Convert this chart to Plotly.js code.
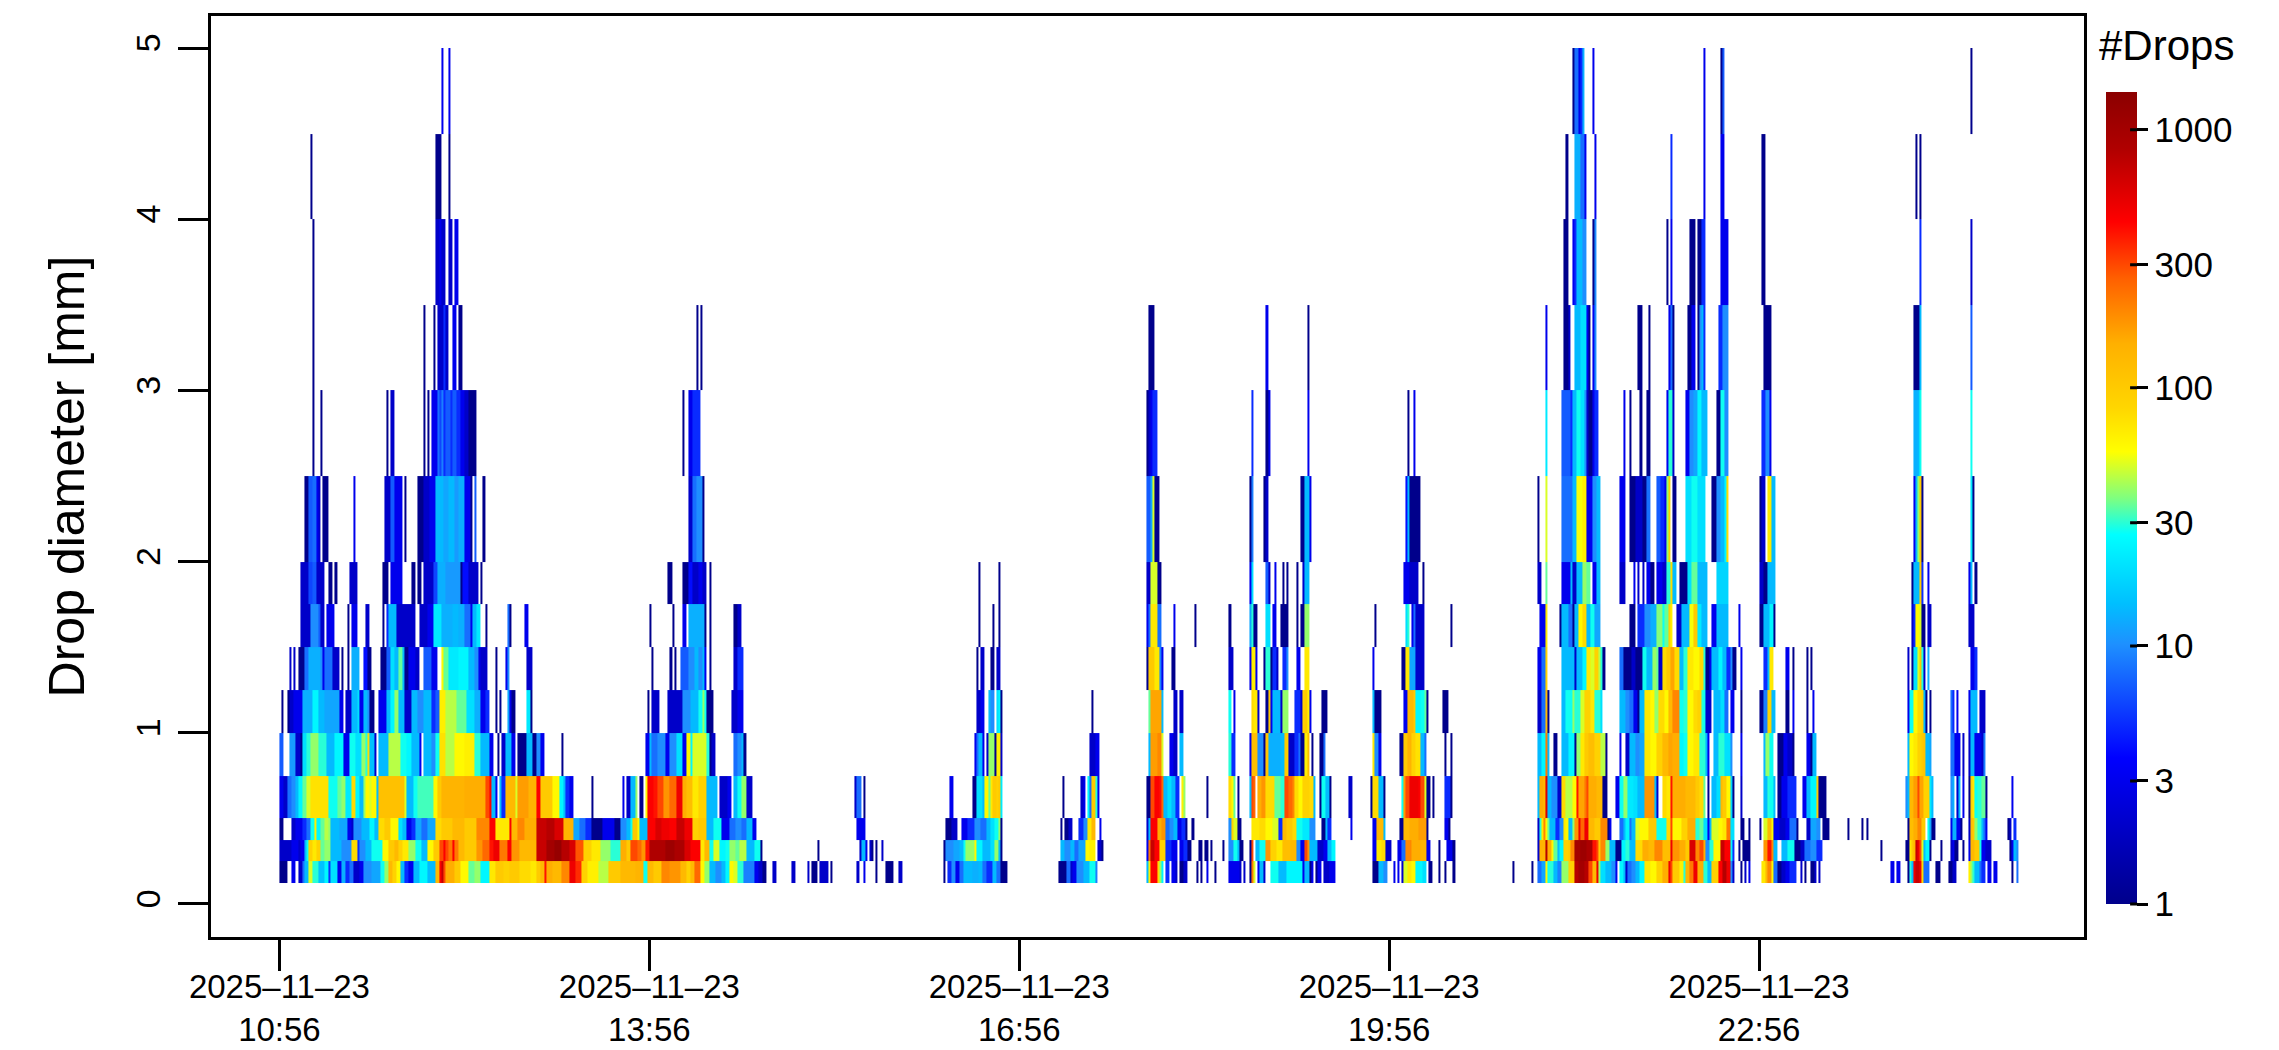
<!DOCTYPE html>
<html lang="en">
    <head>
        <meta charset="UTF-8" />
        <title>Drop size distribution</title>
        <script src="https://cdn.plot.ly/plotly-3.0.1.min.js"></script>
        <style>
            body { margin: 0; background: #fff; }
        </style>
    </head>
    <body>
        <div id="graph" style="width: 2279px; height: 1050px"></div>
    </body>
    <script>
        // Time axis: minutes after the first sample
        const startTime = Date.UTC(2025, 10, 23, 10, 56);
        const nMinutes = 850;
        const tickTimes = ["2025-11-23 10:56", "2025-11-23 13:56", "2025-11-23 16:56", "2025-11-23 19:56", "2025-11-23 22:56"];
        const tickLabels = ["2025–11–23<br>10:56", "2025–11–23<br>13:56", "2025–11–23<br>16:56", "2025–11–23<br>19:56", "2025–11–23<br>22:56"];

        // Diameter class edges [mm]
        const diameterEdges = [0.125, 0.25, 0.375, 0.5, 0.75, 1, 1.25, 1.5, 1.75, 2, 2.5, 3, 3.5, 4, 4.5, 5];

        // Colour bar labels
        const dropTicks = [1, 3, 10, 30, 100, 300, 1000];
        const dropMax = 1400;

        // Each class: [first minute, number of minutes, drops per minute]
        const d0125 = [[0,4,1],[6,2,3],[9,2,2],[11,1,8],[12,2,14],[14,2,50],[16,3,30],[19,3,15],[22,2,25],[24,1,5],[25,3,20],[28,2,3],[30,2,13],[32,2,5],[34,2,8],[36,3,2],[39,2,3],[41,4,10],[45,4,12],[49,2,28],[51,2,40],[53,2,130],[55,2,90],[57,2,60],[59,2,14],[61,2,5],[63,2,3],[65,3,14],[68,4,25],[72,4,14],[76,2,130],[78,1,450],[79,1,700],[80,1,300],[81,4,150],[85,3,100],[88,4,60],[92,3,35],[95,3,40],[98,4,25],[102,3,70],[105,4,100],[109,3,90],[112,5,100],[117,5,80],[122,3,70],[125,2,100],[127,2,130],[129,1,400],[130,3,150],[133,4,130],[137,4,200],[141,3,500],[144,3,350],[147,3,90],[150,5,65],[155,5,45],[160,6,100],[166,7,130],[173,4,140],[177,2,28],[179,3,130],[182,4,100],[186,4,200],[190,5,180],[195,3,130],[198,2,90],[200,2,130],[202,3,250],[205,2,60],[207,2,40],[209,3,14],[212,3,10],[215,2,14],[217,2,25],[219,2,60],[221,2,50],[223,3,30],[226,5,9],[231,2,3],[233,2,2],[235,2,1],[240,2,2],[249,2,2],[257,1,2],[259,3,1],[263,4,2],[268,1,1],[281,1,2],[284,1,3],[290,1,1],[295,4,1],[301,2,2],[323,1,1],[325,2,5],[327,2,10],[329,2,3],[331,2,8],[333,4,14],[337,3,13],[340,2,14],[342,2,8],[344,3,5],[347,2,14],[349,2,8],[351,3,1],[379,4,1],[383,2,8],[385,1,2],[386,2,3],[388,3,10],[391,3,14],[394,3,28],[397,1,9],[422,1,14],[423,1,65],[424,3,450],[427,1,80],[428,1,40],[429,1,25],[431,2,5],[434,2,3],[436,1,2],[438,2,1],[440,2,2],[446,1,1],[448,1,1],[451,1,3],[455,1,1],[462,5,3],[467,1,2],[469,1,2],[472,1,1],[473,1,220],[474,1,50],[476,1,3],[477,2,14],[479,1,2],[482,4,28],[486,4,14],[490,8,25],[498,1,3],[499,2,14],[501,1,1],[502,1,3],[504,1,1],[505,2,3],[508,3,2],[511,3,3],[532,3,1],[535,2,14],[537,2,10],[542,1,3],[544,1,3],[546,1,2],[547,2,50],[549,2,70],[551,2,60],[553,3,25],[556,2,20],[559,2,1],[564,1,1],[567,1,1],[571,1,1],[600,1,1],[609,1,1],[612,2,8],[614,2,12],[616,1,60],[617,1,28],[618,2,30],[620,2,14],[622,2,9],[624,3,40],[627,3,90],[630,2,800],[632,3,1000],[635,2,800],[637,2,300],[639,2,130],[641,1,500],[642,1,40],[643,2,20],[645,3,14],[648,2,10],[650,1,3],[652,2,25],[654,1,14],[655,1,2],[656,2,8],[658,2,10],[660,2,14],[662,2,25],[664,3,70],[667,3,60],[670,3,90],[673,3,150],[676,1,500],[677,1,300],[678,3,100],[681,2,65],[683,1,30],[684,2,140],[686,2,220],[688,2,500],[690,3,150],[693,2,30],[695,2,14],[697,3,90],[700,2,450],[702,2,800],[704,2,500],[706,1,10],[707,1,2],[711,1,1],[713,1,2],[715,1,3],[721,2,70],[723,1,130],[724,2,200],[726,1,60],[727,2,8],[729,2,1],[731,2,2],[733,2,3],[735,3,5],[740,1,2],[742,1,1],[745,2,1],[747,1,2],[749,1,2],[784,2,3],[787,2,3],[792,1,1],[793,1,30],[794,1,14],[795,1,500],[796,2,700],[798,1,500],[799,1,80],[800,3,8],[806,2,1],[812,2,1],[814,2,2],[822,1,65],[823,1,40],[824,1,30],[825,2,14],[827,1,8],[828,2,5],[831,2,3],[834,2,3],[843,1,1],[845,1,8]];
        const d025 = [[0,6,2],[6,3,3],[9,1,2],[10,2,3],[12,1,14],[13,1,28],[14,2,90],[16,2,70],[18,2,90],[20,2,35],[22,3,40],[25,5,14],[30,5,10],[35,3,80],[38,1,5],[39,3,10],[42,3,14],[45,5,28],[50,3,60],[53,3,100],[56,2,130],[58,2,90],[60,3,70],[63,3,40],[66,3,28],[69,3,14],[72,3,60],[75,3,100],[78,2,300],[80,1,450],[81,1,300],[82,2,220],[84,1,450],[85,2,220],[87,3,130],[90,6,100],[96,3,180],[99,3,250],[102,2,400],[104,3,500],[107,4,220],[111,2,450],[113,4,180],[117,8,130],[125,5,700],[130,4,1000],[134,3,1200],[137,4,800],[141,3,600],[144,4,280],[148,4,90],[152,4,70],[156,5,40],[161,5,30],[166,3,150],[169,2,100],[171,3,300],[174,2,250],[176,2,180],[178,2,400],[180,8,850],[188,4,1100],[192,5,900],[197,3,600],[200,5,450],[205,2,70],[207,2,130],[209,2,28],[211,3,50],[214,3,25],[217,2,28],[219,3,40],[222,2,35],[224,3,45],[227,4,14],[231,3,28],[234,1,1],[262,1,1],[282,1,2],[283,2,14],[285,1,3],[287,1,2],[288,1,1],[290,1,1],[293,1,2],[323,1,1],[324,4,10],[328,3,12],[331,2,14],[333,1,28],[334,4,40],[338,1,60],[339,3,25],[342,4,14],[346,2,20],[348,2,40],[350,1,14],[351,1,1],[380,2,14],[382,3,10],[385,2,14],[387,2,8],[389,3,12],[392,2,60],[394,3,65],[398,2,2],[400,1,1],[422,1,3],[423,1,220],[424,2,700],[426,2,450],[428,3,90],[431,3,5],[434,3,3],[438,2,3],[440,2,5],[442,2,1],[447,2,1],[450,2,1],[453,1,1],[459,1,1],[462,2,10],[464,2,28],[466,1,14],[467,2,1],[472,1,1],[473,1,300],[475,2,14],[477,3,28],[480,2,180],[482,3,90],[485,3,70],[488,4,120],[492,3,130],[495,2,10],[497,2,3],[499,1,300],[500,1,180],[501,2,14],[503,2,14],[505,3,2],[508,2,3],[510,2,14],[512,2,25],[532,2,3],[534,2,70],[536,2,80],[538,3,2],[544,2,3],[546,2,8],[548,3,200],[551,4,150],[555,4,140],[558,2,3],[564,1,1],[568,3,3],[571,1,1],[612,1,2],[613,3,140],[616,1,800],[617,2,150],[619,1,60],[620,2,35],[622,1,14],[623,2,25],[625,2,90],[627,1,100],[628,2,200],[630,3,1000],[633,3,1100],[636,3,900],[639,2,400],[641,1,300],[642,1,100],[643,2,200],[645,2,40],[647,3,14],[650,3,1],[653,2,25],[655,2,30],[657,3,14],[660,3,80],[663,3,150],[666,3,130],[669,4,200],[673,4,120],[677,1,500],[678,3,180],[681,3,150],[684,2,100],[686,3,600],[689,2,200],[691,2,300],[693,1,150],[694,2,10],[696,2,30],[698,3,60],[701,2,700],[703,3,450],[706,1,25],[707,1,5],[710,1,1],[712,4,1],[722,2,180],[724,2,400],[726,1,200],[727,2,14],[731,3,14],[734,3,28],[737,3,1],[740,2,2],[742,3,8],[745,3,10],[748,3,5],[779,1,1],[791,2,1],[793,1,70],[794,1,100],[795,1,130],[796,1,700],[797,1,500],[798,1,300],[799,1,50],[800,1,14],[801,2,25],[803,1,1],[808,1,1],[813,1,2],[814,1,3],[815,2,1],[819,1,1],[822,1,3],[823,2,130],[825,2,100],[827,1,28],[828,2,3],[830,3,2],[842,1,1],[843,1,3],[844,1,14],[845,1,10]];
        const d0375 = [[0,2,1],[6,2,2],[8,3,3],[11,2,5],[13,2,8],[15,2,28],[17,1,65],[18,2,25],[20,2,35],[22,2,45],[24,1,40],[25,4,14],[29,4,12],[33,2,3],[35,1,2],[36,4,10],[40,4,14],[44,2,25],[46,2,14],[48,3,80],[51,3,100],[54,4,60],[58,2,20],[60,2,14],[62,2,3],[64,2,5],[66,3,12],[69,3,8],[72,4,12],[76,3,80],[79,5,100],[84,6,130],[90,6,100],[96,6,200],[102,3,450],[105,7,70],[112,1,450],[113,3,130],[116,3,200],[119,6,150],[125,5,700],[130,4,800],[134,4,600],[138,5,140],[143,3,12],[146,3,8],[149,3,5],[152,2,1],[154,3,1],[157,6,3],[163,3,1],[166,3,10],[169,2,14],[171,1,28],[172,2,100],[174,1,60],[175,4,14],[179,4,450],[183,3,600],[186,4,500],[190,3,450],[193,4,700],[197,4,500],[201,3,90],[204,4,100],[208,3,14],[211,4,28],[215,4,3],[219,3,8],[222,3,10],[225,2,8],[227,3,14],[230,2,3],[281,2,3],[283,2,3],[324,3,1],[327,3,2],[332,1,3],[333,2,3],[335,3,5],[338,3,10],[341,3,8],[344,2,14],[346,2,20],[348,2,28],[350,1,40],[351,1,1],[380,1,1],[382,2,1],[384,2,2],[389,2,5],[391,2,10],[393,2,70],[395,2,130],[399,1,3],[422,1,2],[423,1,14],[424,3,450],[427,2,150],[429,2,180],[431,2,8],[433,2,10],[435,2,14],[437,2,3],[439,2,5],[441,1,1],[444,1,1],[462,1,10],[463,1,90],[464,2,50],[466,1,1],[467,1,1],[473,4,70],[477,3,80],[480,3,60],[483,3,50],[486,2,5],[488,2,130],[490,3,100],[493,2,80],[495,3,28],[498,3,22],[501,3,10],[507,2,1],[509,1,14],[510,2,5],[521,1,3],[532,2,3],[534,1,140],[535,2,130],[537,1,14],[545,2,1],[547,3,130],[550,4,150],[554,4,170],[558,1,1],[567,2,3],[569,1,1],[612,1,2],[613,1,30],[614,1,70],[615,1,200],[616,1,60],[617,1,35],[618,3,14],[621,2,5],[623,2,10],[625,1,70],[626,1,60],[627,2,14],[629,1,40],[630,2,180],[632,1,500],[633,2,250],[635,2,500],[637,3,130],[640,3,100],[643,3,200],[646,1,1],[647,1,3],[652,2,8],[654,1,14],[655,2,25],[657,1,8],[658,2,14],[660,2,50],[662,4,60],[666,4,100],[670,5,28],[675,2,80],[677,1,300],[678,4,60],[682,3,90],[685,4,150],[689,2,30],[691,2,35],[693,2,20],[695,1,3],[696,1,14],[697,3,50],[700,2,60],[702,2,70],[704,2,220],[706,2,20],[711,2,1],[715,1,1],[720,1,1],[722,2,50],[724,2,130],[726,1,60],[727,3,3],[730,3,2],[733,2,3],[735,3,8],[738,1,1],[743,2,2],[745,3,12],[748,2,10],[751,3,1],[763,1,1],[770,1,1],[772,1,1],[792,1,1],[793,2,120],[795,2,150],[797,2,200],[799,2,100],[802,1,28],[803,1,12],[804,2,1],[813,1,3],[814,2,13],[816,2,3],[818,1,1],[822,1,2],[823,1,120],[824,1,100],[825,1,40],[826,2,30],[828,1,14],[829,1,8],[830,1,3],[841,1,1],[842,1,2],[844,1,5]];
        const d05 = [[0,2,3],[2,2,2],[4,2,8],[6,2,10],[8,1,14],[9,2,25],[11,2,35],[13,2,50],[15,9,75],[24,4,28],[28,2,35],[30,2,40],[32,3,22],[35,2,80],[37,2,25],[39,2,14],[41,1,40],[42,2,60],[44,1,50],[45,2,60],[47,1,14],[48,13,115],[61,1,50],[62,1,14],[63,2,14],[65,2,28],[67,8,32],[75,2,60],[77,2,100],[79,11,140],[90,10,150],[100,2,300],[102,1,450],[103,2,14],[105,1,3],[107,1,14],[108,2,5],[110,5,130],[115,1,50],[116,5,170],[121,4,140],[125,2,450],[127,2,100],[129,4,100],[133,3,60],[136,2,25],[138,1,14],[139,2,5],[141,2,3],[152,1,1],[167,1,3],[169,2,2],[171,2,14],[173,1,40],[175,2,1],[178,1,60],[179,3,450],[182,2,400],[184,3,300],[187,3,180],[190,3,250],[193,3,500],[196,2,150],[198,3,120],[201,3,70],[204,4,90],[208,3,14],[211,2,14],[214,2,2],[216,2,2],[218,2,3],[221,2,14],[223,2,28],[225,2,40],[227,3,2],[280,1,2],[281,2,8],[284,1,1],[326,2,3],[337,2,1],[339,3,20],[342,1,14],[343,2,60],[345,1,35],[346,1,70],[347,2,100],[349,1,90],[350,1,100],[351,1,22],[381,1,1],[390,1,2],[391,1,3],[393,1,25],[394,1,8],[395,2,100],[397,1,30],[398,1,3],[422,2,1],[424,2,300],[426,2,450],[428,1,400],[429,1,250],[430,2,14],[432,2,20],[434,2,14],[436,2,5],[439,1,65],[440,1,40],[451,1,1],[462,1,80],[463,1,60],[464,1,35],[466,1,1],[472,1,14],[473,1,300],[474,1,250],[476,2,150],[478,2,180],[480,4,80],[484,3,35],[487,2,30],[489,2,300],[491,2,250],[493,1,200],[494,2,80],[496,2,60],[498,3,90],[501,2,80],[503,1,14],[506,1,1],[507,2,28],[509,2,14],[511,1,1],[520,2,2],[531,1,1],[532,3,80],[535,2,14],[537,1,1],[546,1,28],[547,1,170],[548,2,300],[550,2,500],[552,2,500],[554,1,450],[555,2,300],[557,1,50],[558,2,1],[561,1,1],[567,3,5],[570,1,1],[612,1,14],[613,2,150],[615,1,130],[616,1,600],[617,2,14],[619,3,10],[622,2,2],[624,2,80],[626,3,45],[629,2,60],[631,1,400],[632,3,160],[635,1,220],[636,1,300],[637,4,150],[641,3,130],[644,2,1],[650,2,3],[652,2,28],[654,2,40],[656,3,22],[659,2,20],[661,3,14],[664,5,180],[669,1,14],[670,1,2],[673,2,80],[675,2,70],[677,1,400],[678,6,150],[684,5,130],[689,2,100],[691,2,80],[693,1,35],[695,1,1],[697,2,14],[699,2,20],[701,1,130],[702,2,100],[704,2,60],[706,1,18],[707,1,1],[711,1,2],[722,2,14],[724,1,30],[725,2,28],[727,1,14],[729,2,1],[731,3,3],[734,4,5],[741,2,3],[743,2,14],[745,3,25],[748,1,100],[749,4,1],[791,1,10],[792,1,14],[793,2,130],[795,2,170],[797,1,300],[798,2,160],[800,3,90],[803,1,22],[804,1,14],[813,1,10],[814,1,13],[816,1,2],[817,1,14],[819,1,3],[822,1,1],[823,1,90],[824,1,70],[825,1,28],[826,2,30],[828,2,35],[830,1,1],[843,1,3]];
        const d075 = [[0,2,7],[5,3,11],[8,2,2],[10,1,1],[11,2,20],[13,2,30],[15,4,40],[19,4,30],[23,4,14],[27,4,25],[31,3,3],[34,3,28],[37,3,20],[40,2,40],[42,1,30],[43,1,80],[44,2,15],[46,1,2],[48,5,14],[53,6,45],[59,3,28],[62,2,25],[64,4,14],[68,1,3],[70,4,14],[74,2,10],[76,2,28],[78,3,75],[81,4,45],[85,5,60],[90,5,65],[95,3,30],[98,4,14],[102,2,3],[106,1,1],[108,2,2],[110,3,14],[113,2,3],[116,4,1],[120,3,14],[123,2,1],[125,2,10],[127,2,3],[137,1,1],[178,2,3],[180,1,14],[181,3,8],[184,4,10],[188,2,3],[190,3,10],[193,3,20],[196,2,3],[198,2,60],[200,1,25],[201,7,50],[208,1,30],[209,1,1],[210,2,2],[221,2,8],[223,2,10],[225,1,14],[226,1,1],[338,1,3],[339,1,8],[340,2,14],[342,1,3],[344,1,2],[345,3,40],[348,1,1],[349,2,65],[351,1,2],[394,3,2],[397,2,3],[423,1,14],[424,3,170],[427,2,200],[429,1,50],[433,2,3],[435,2,2],[438,2,14],[462,1,30],[463,2,5],[472,1,3],[473,3,120],[476,3,10],[479,1,1],[480,1,110],[481,6,13],[487,2,14],[489,1,100],[490,1,90],[491,3,2],[494,2,5],[496,1,8],[497,2,1],[499,1,65],[500,1,120],[502,1,1],[506,2,1],[508,1,8],[532,1,70],[533,2,10],[535,1,3],[545,2,1],[547,2,100],[549,2,140],[551,2,90],[553,2,75],[555,2,14],[557,1,8],[567,1,1],[570,1,1],[612,2,14],[614,2,25],[616,1,220],[617,1,14],[620,2,1],[624,3,14],[627,3,25],[630,1,1],[631,2,40],[633,2,70],[635,2,100],[637,3,120],[640,3,90],[643,2,45],[645,1,1],[652,1,3],[655,2,2],[657,3,14],[660,2,10],[662,2,12],[664,3,70],[667,3,60],[670,3,90],[673,3,130],[676,2,160],[678,3,150],[681,2,25],[683,2,28],[685,3,60],[688,3,70],[691,3,30],[694,1,14],[695,1,3],[698,2,14],[700,3,30],[703,3,20],[706,1,10],[711,1,3],[722,1,14],[723,2,40],[725,2,28],[729,3,1],[732,2,3],[734,2,2],[736,1,1],[743,2,3],[745,1,1],[746,2,14],[792,1,14],[793,2,60],[795,2,70],[797,2,90],[799,1,100],[800,1,110],[801,2,14],[803,1,12],[813,2,8],[815,3,3],[819,1,2],[822,1,2],[823,2,14],[825,1,3],[826,2,3],[828,1,2],[829,1,9]];
        const d100 = [[1,1,1],[4,1,1],[5,2,2],[7,1,3],[8,3,3],[11,5,13],[16,3,25],[19,3,14],[22,7,12],[29,2,3],[32,3,2],[35,3,14],[38,1,20],[39,2,3],[41,2,14],[43,1,10],[44,2,1],[48,4,3],[52,2,14],[54,2,25],[56,2,40],[58,3,14],[61,3,2],[64,3,14],[67,3,10],[70,4,14],[74,2,5],[76,2,7],[78,3,65],[81,5,45],[86,5,35],[91,4,20],[95,3,13],[98,2,3],[100,2,5],[105,1,1],[107,1,1],[111,1,12],[112,1,3],[113,2,1],[120,2,22],[122,1,1],[179,1,1],[181,4,2],[189,7,2],[196,4,10],[200,4,14],[204,2,28],[206,1,40],[207,1,28],[208,3,1],[220,3,2],[223,3,3],[339,2,2],[341,2,3],[345,1,14],[346,2,10],[349,1,20],[350,1,25],[351,1,1],[395,1,1],[423,1,35],[424,5,160],[429,1,14],[435,2,2],[438,2,2],[462,1,28],[464,1,3],[473,1,80],[474,2,70],[476,1,2],[480,1,1],[481,1,100],[482,1,3],[483,4,14],[487,1,2],[488,3,40],[494,3,5],[497,1,2],[498,1,90],[499,1,100],[500,1,65],[501,1,3],[507,3,1],[532,1,14],[533,3,1],[547,2,3],[549,3,130],[552,1,100],[553,2,25],[555,2,28],[557,1,35],[558,1,1],[566,3,1],[612,2,2],[614,2,8],[616,1,130],[617,1,1],[624,2,14],[626,3,28],[629,1,40],[630,3,30],[633,2,50],[635,3,90],[638,2,70],[640,3,30],[643,1,20],[652,3,14],[655,2,10],[657,2,8],[659,2,3],[661,1,1],[662,2,14],[664,3,70],[667,2,60],[669,2,40],[671,3,80],[674,2,60],[676,2,130],[678,3,200],[681,2,28],[683,2,30],[685,3,60],[688,2,80],[690,2,90],[692,1,30],[693,1,28],[694,3,2],[698,3,14],[701,2,20],[703,2,8],[706,2,3],[711,1,1],[720,2,1],[722,2,9],[724,2,90],[726,2,14],[733,2,1],[736,1,3],[743,1,1],[746,1,3],[792,1,3],[793,2,28],[795,2,60],[797,2,80],[799,1,90],[800,1,14],[801,1,1],[803,1,1],[813,1,8],[814,1,5],[816,1,3],[822,1,3],[823,3,14],[827,3,2]];
        const d125 = [[5,1,2],[7,1,2],[9,3,1],[12,2,8],[14,6,13],[20,1,10],[21,1,3],[22,4,8],[26,3,2],[30,1,1],[33,1,1],[35,4,13],[41,2,4],[43,2,1],[49,3,1],[52,2,7],[54,2,20],[56,2,14],[58,2,35],[60,1,14],[61,2,1],[63,3,3],[66,2,2],[70,4,7],[74,3,3],[79,1,60],[80,2,35],[82,5,22],[87,5,25],[92,3,14],[95,2,10],[97,1,3],[98,3,2],[105,1,1],[110,1,3],[111,1,10],[120,3,2],[181,1,1],[190,1,1],[192,1,1],[195,4,7],[199,3,10],[202,2,14],[204,2,10],[206,1,14],[207,1,3],[209,1,1],[221,2,2],[223,3,5],[339,1,1],[341,2,2],[346,2,1],[349,2,2],[422,1,1],[423,3,100],[426,2,70],[428,1,9],[429,1,3],[434,2,1],[462,2,2],[472,1,3],[473,2,65],[475,1,3],[479,1,1],[480,2,30],[482,1,1],[483,2,5],[485,1,2],[488,2,5],[490,1,10],[495,2,3],[499,2,70],[532,1,3],[546,2,1],[548,2,70],[550,3,12],[553,4,2],[612,2,3],[614,2,8],[616,1,90],[624,6,14],[630,1,2],[631,3,14],[634,2,25],[636,2,70],[638,2,50],[640,2,90],[642,1,45],[643,1,30],[644,1,1],[652,2,8],[654,1,1],[655,3,1],[658,2,2],[660,3,1],[663,2,28],[665,3,14],[668,2,40],[670,1,35],[671,2,2],[673,2,80],[675,2,100],[677,2,160],[679,2,80],[681,2,14],[683,2,30],[685,3,70],[688,3,60],[691,2,80],[693,1,30],[694,2,1],[696,1,3],[697,3,14],[700,2,25],[702,2,14],[704,2,5],[706,1,10],[707,2,1],[711,1,3],[722,2,5],[724,1,14],[725,2,70],[733,2,3],[736,1,1],[743,1,1],[745,1,1],[792,1,2],[794,1,1],[795,2,20],[797,1,50],[798,1,100],[799,1,30],[800,1,2],[802,1,13],[823,2,3],[825,1,5]];
        const d150 = [[10,5,2],[15,4,10],[19,1,7],[20,2,2],[23,4,3],[33,1,1],[35,3,3],[42,2,2],[50,1,1],[52,1,5],[53,4,14],[57,5,2],[62,4,2],[68,4,2],[72,3,3],[75,4,22],[79,5,13],[84,3,14],[87,3,13],[90,3,8],[93,1,3],[94,2,14],[96,2,22],[100,1,1],[111,1,8],[112,1,1],[119,2,3],[180,1,1],[191,1,1],[196,2,3],[199,8,13],[207,1,1],[209,1,1],[221,2,1],[223,2,2],[340,1,1],[347,1,1],[350,1,1],[422,1,3],[423,1,8],[424,3,70],[427,2,8],[435,1,3],[445,1,1],[462,1,1],[472,1,12],[473,1,30],[474,2,1],[480,2,20],[483,2,3],[487,4,1],[495,1,1],[497,2,1],[499,2,40],[533,1,1],[548,1,20],[549,1,30],[551,1,3],[552,1,8],[553,4,2],[570,1,1],[613,3,3],[616,1,70],[623,1,1],[624,3,14],[627,2,8],[629,1,1],[630,2,14],[632,2,60],[634,2,80],[636,2,14],[638,2,28],[640,3,12],[657,3,1],[661,3,5],[664,3,10],[667,3,13],[670,3,38],[673,1,28],[674,2,35],[676,1,90],[677,1,65],[680,2,2],[682,4,14],[686,2,55],[688,2,100],[690,2,22],[692,3,14],[697,2,3],[699,6,14],[710,1,3],[720,3,1],[722,3,14],[725,2,25],[727,1,1],[794,1,2],[795,1,5],[796,2,60],[798,1,50],[799,2,1],[802,2,2],[822,3,2]];
        const d175 = [[10,4,2],[14,2,6],[16,2,7],[18,4,2],[24,2,1],[27,1,1],[34,4,2],[50,3,1],[54,6,3],[64,2,1],[67,2,1],[70,5,2],[75,2,6],[77,4,13],[81,7,11],[88,1,1],[89,3,4],[92,5,2],[98,1,1],[189,2,1],[196,3,1],[199,2,4],[201,3,2],[204,2,3],[206,2,2],[209,1,1],[340,1,1],[350,1,1],[422,2,2],[424,3,50],[427,2,1],[472,1,3],[473,1,20],[480,1,7],[481,1,2],[484,1,3],[488,1,1],[490,1,1],[495,1,1],[498,1,2],[499,2,14],[547,2,3],[549,1,3],[550,4,2],[556,1,1],[612,2,2],[616,1,35],[624,4,3],[628,1,14],[629,2,2],[631,3,14],[634,2,40],[636,2,35],[639,2,3],[641,2,14],[652,3,2],[659,1,3],[661,1,2],[663,1,2],[665,2,3],[667,2,1],[670,3,3],[673,3,2],[675,2,30],[677,1,80],[678,2,14],[681,4,1],[685,2,20],[687,3,35],[690,5,14],[699,6,18],[720,2,2],[722,2,1],[724,4,14],[794,1,1],[795,3,14],[798,1,100],[799,1,5],[802,1,3],[822,1,3],[823,1,14],[825,1,1]];
        const d200 = [[12,2,1],[14,2,7],[16,2,8],[18,1,3],[19,1,2],[21,3,1],[36,1,3],[51,3,2],[54,2,7],[56,4,3],[61,1,1],[67,3,1],[70,3,2],[73,3,3],[76,4,14],[80,2,12],[82,3,14],[85,2,11],[87,3,13],[90,3,3],[93,1,1],[95,1,7],[99,1,1],[199,3,2],[201,2,8],[203,3,10],[206,1,1],[422,2,7],[424,1,12],[425,1,50],[426,2,1],[472,1,1],[473,1,9],[479,1,1],[480,1,2],[497,2,1],[499,2,14],[501,1,3],[548,1,4],[549,1,14],[550,5,1],[612,1,1],[616,1,50],[624,5,8],[629,2,14],[631,3,55],[634,2,65],[636,3,3],[639,2,10],[641,2,14],[652,3,3],[657,3,1],[660,3,2],[663,2,1],[665,2,8],[670,2,7],[672,2,5],[674,1,3],[675,1,40],[676,1,90],[678,1,1],[679,1,1],[684,3,20],[687,3,28],[690,4,20],[697,2,1],[699,2,10],[701,2,14],[703,1,25],[704,1,80],[720,1,1],[721,2,2],[724,2,70],[726,2,14],[795,1,3],[796,1,14],[797,1,40],[798,1,100],[799,1,1],[823,1,22],[824,1,1]];
        const d250 = [[16,1,1],[20,1,1],[52,1,1],[54,2,2],[70,1,1],[72,1,1],[74,3,3],[77,1,8],[78,1,6],[79,1,9],[80,1,5],[81,2,7],[83,1,5],[84,2,7],[86,2,5],[88,2,3],[90,2,2],[92,4,1],[196,1,1],[199,2,3],[201,4,5],[422,1,1],[423,1,2],[424,1,3],[425,2,5],[473,1,5],[480,1,1],[481,1,3],[500,1,3],[549,1,1],[552,1,3],[616,1,22],[624,4,7],[628,1,5],[629,2,14],[631,2,28],[633,2,20],[635,1,10],[636,1,2],[637,2,1],[639,1,3],[640,2,5],[654,1,3],[657,1,1],[662,1,1],[665,2,1],[675,1,3],[676,2,30],[678,1,2],[684,2,3],[686,2,10],[688,2,12],[690,2,25],[692,3,14],[699,2,1],[701,2,28],[703,2,10],[721,2,5],[723,2,10],[725,1,3],[795,2,13],[797,1,14],[798,1,28],[823,1,28]];
        const d300 = [[16,1,1],[70,1,1],[75,1,1],[77,3,2],[80,1,5],[81,1,2],[84,2,3],[87,2,1],[203,1,1],[205,1,1],[423,3,1],[480,1,3],[500,1,1],[616,1,3],[625,2,1],[627,1,2],[630,3,14],[633,3,20],[636,1,3],[637,1,1],[639,1,3],[640,1,10],[661,2,1],[666,1,1],[676,1,3],[677,1,8],[678,1,1],[685,2,1],[687,2,3],[690,1,1],[691,1,10],[692,1,14],[693,1,5],[700,2,5],[702,3,10],[722,4,1],[795,3,1],[798,1,14],[823,1,7]];
        const d350 = [[16,1,1],[76,2,2],[78,1,3],[79,2,2],[82,2,2],[85,2,3],[625,2,1],[629,1,3],[630,1,5],[631,3,14],[634,2,10],[639,1,1],[640,1,10],[675,1,1],[677,1,3],[686,3,1],[690,2,1],[692,2,5],[701,4,3],[721,2,1],[798,1,5],[823,1,2]];
        const d400 = [[15,1,1],[76,3,1],[82,1,1],[626,1,1],[630,3,13],[633,3,8],[635,1,3],[640,1,3],[677,1,5],[693,1,3],[701,2,3],[721,2,1],[796,1,1],[798,1,1]];
        const d450 = [[79,1,3],[82,1,3],[629,1,1],[630,2,8],[632,1,3],[633,1,5],[634,1,13],[639,1,3],[693,1,3],[701,1,1],[702,1,7],[823,1,1]];

        const classes = [d0125, d025, d0375, d05, d075, d100, d125, d150, d175, d200, d250, d300, d350, d400, d450];

        // Expanding the runs into a grid, empty minutes stay null
        const grid = classes.map((runs) => {
            const row = new Array(nMinutes).fill(null);
            runs.forEach(([first, count, drops]) => {
                for (let m = first; m < first + count; m++) {
                    row[m] = Math.log10(drops);
                }
            });
            return row;
        });

        const timeEdges = [];
        for (let m = 0; m <= nMinutes; m++) {
            timeEdges.push(startTime + m * 60000);
        }

        // Colours follow the legend bar, on a log scale of the drop count
        const colours = [
            [0, "#00008b"],
            [0.18, "#0000ff"],
            [0.32, "#1e90ff"],
            [0.37, "#00bfff"],
            [0.455, "#00ffff"],
            [0.5, "#7fff7f"],
            [0.557, "#ffff00"],
            [0.61, "#ffd700"],
            [0.69, "#ffb000"],
            [0.77, "#ff6000"],
            [0.84, "#ff0000"],
            [0.93, "#b00000"],
            [1, "#8b0000"],
        ];

        const font = "'Liberation Sans', Arial, sans-serif";
        const zMax = Math.log10(dropMax);

        // Colour bar placement, as fractions of the plot area
        const barBottom = 0.0358;
        const barLen = 0.8817;
        const barLeft = 1.0118;
        const barRight = barLeft + 31 / 1873;

        const data = [
            {
                type: "heatmap",
                x: timeEdges,
                y: diameterEdges,
                z: grid,
                zmin: 0,
                zmax: zMax,
                zsmooth: false,
                colorscale: colours,
                hoverongaps: false,
                colorbar: {
                    x: barLeft,
                    xanchor: "left",
                    xpad: 0,
                    y: barBottom,
                    yanchor: "bottom",
                    ypad: 0,
                    len: barLen,
                    lenmode: "fraction",
                    thickness: 31,
                    thicknessmode: "pixels",
                    outlinewidth: 0,
                    tickmode: "array",
                    tickvals: dropTicks.map((v) => Math.log10(v)),
                    ticktext: dropTicks.map(String),
                    ticks: "outside",
                    ticklen: 11,
                    tickwidth: 3,
                    tickcolor: "#000",
                    tickfont: { family: font, size: 35, color: "#000" },
                },
            },
        ];

        // R draws the bar ticks across the edge of the bar. Annotations sit above the colour bar, shapes do not
        const barTicks = dropTicks.map((v) => ({
            xref: "paper",
            yref: "paper",
            x: barRight,
            y: barBottom + (barLen * Math.log10(v)) / zMax,
            ax: -10,
            ay: 0,
            showarrow: true,
            arrowhead: 0,
            arrowwidth: 3,
            arrowcolor: "#000",
            standoff: 0,
        }));

        const layout = {
            width: 2279,
            height: 1050,
            margin: { l: 211, r: 195, t: 16, b: 113 },
            paper_bgcolor: "#fff",
            plot_bgcolor: "#fff",
            font: { family: font, color: "#000" },
            xaxis: {
                type: "date",
                range: [startTime - 33.3 * 60000, startTime + 878.1 * 60000],
                tickmode: "array",
                tickvals: tickTimes,
                ticktext: tickLabels,
                ticks: "outside",
                ticklen: 31,
                tickwidth: 3,
                tickcolor: "#000",
                tickangle: 0,
                ticklabelstandoff: -13,
                tickfont: { family: font, size: 33, color: "#000" },
                showgrid: false,
                zeroline: false,
                showline: true,
                mirror: true,
                linecolor: "#000",
                linewidth: 3,
            },
            yaxis: {
                range: [-0.193, 5.187],
                tickmode: "array",
                tickvals: [0, 1, 2, 3, 4, 5],
                ticks: "outside",
                ticklen: 30,
                tickwidth: 3,
                tickcolor: "#000",
                tickangle: -90,
                ticklabelstandoff: 4,
                tickfont: { family: font, size: 34, color: "#000" },
                showgrid: false,
                zeroline: false,
                showline: true,
                mirror: true,
                linecolor: "#000",
                linewidth: 3,
                title: { text: "Drop diameter [mm]", font: { family: font, size: 50, color: "#000" }, standoff: 29 },
            },
            annotations: [
                {
                    text: "#Drops",
                    xref: "paper",
                    yref: "paper",
                    x: 1.0069,
                    xanchor: "left",
                    y: 0.9957,
                    yanchor: "top",
                    showarrow: false,
                    font: { family: font, size: 42, color: "#000" },
                },
            ].concat(barTicks),
        };

        Plotly.newPlot("graph", data, layout, { displayModeBar: false });
    </script>
</html>
